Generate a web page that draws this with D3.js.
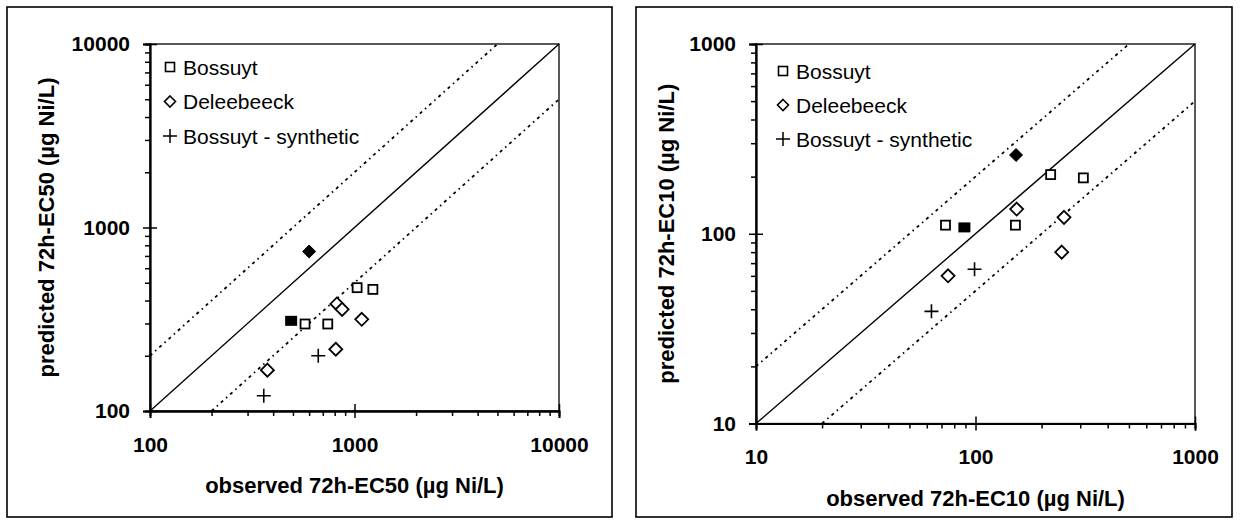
<!DOCTYPE html>
<html>
<head>
<meta charset="utf-8">
<script src="https://cdn.jsdelivr.net/npm/d3@7"></script>
<style>
  html, body { margin: 0; padding: 0; background: #fff; }
  svg { display: block; }
  text { font-family: "Liberation Sans", Arial, sans-serif; fill: #000; }
</style>
</head>
<body>
<svg id="chart" width="1240" height="524"></svg>
<script>
// ---- data: EC50 panel (ug Ni/L)
const ec50_bossuyt_obs   = [573, 740, 1030, 1230];
const ec50_bossuyt_pred  = [298, 298, 470, 460];
const ec50_bossuytF_obs  = [490];
const ec50_bossuytF_pred = [310];
const ec50_delee_obs     = [375, 810, 820, 870, 1085];
const ec50_delee_pred    = [167, 217, 383, 358, 316];
const ec50_deleeF_obs    = [600];
const ec50_deleeF_pred   = [740];
const ec50_synth_obs     = [360, 665];
const ec50_synth_pred    = [121, 200];

// ---- data: EC10 panel
const ec10_bossuyt_obs   = [73, 152, 220, 310];
const ec10_bossuyt_pred  = [111, 111, 205, 197];
const ec10_bossuytF_obs  = [89];
const ec10_bossuytF_pred = [108];
const ec10_delee_obs     = [75, 154, 253, 247];
const ec10_delee_pred    = [60, 135, 122, 80];
const ec10_deleeF_obs    = [153];
const ec10_deleeF_pred   = [260];
const ec10_synth_obs     = [63, 99];
const ec10_synth_pred    = [39, 65];

const legendLabels = ['Bossuyt', 'Deleebeeck', 'Bossuyt - synthetic'];
const ec50_ticks = [100, 1000, 10000];
const ec10_ticks = [10, 100, 1000];

const zip = (a, b) => a.map((v, i) => [v, b[i]]);

const svg = d3.select('#chart');

function minorTicks (dom) {
  const out = [];
  for (let d = dom[0]; d < dom[1]; d *= 10)
    for (let k = 2; k <= 9; k++) out.push(d * k);
  return out;
}

function drawPanel (cfg) {
  const { box, plot, domain, ticks } = cfg;

  svg.append('rect')
     .attr('x', box[0]).attr('y', box[1])
     .attr('width', box[2] - box[0]).attr('height', box[3] - box[1])
     .attr('fill', 'none').attr('stroke', '#000').attr('stroke-width', 1.6);

  const x = d3.scaleLog(domain, [plot.l, plot.r]);
  const y = d3.scaleLog(domain, [plot.b, plot.t]);

  const g = svg.append('g');

  // plot frame
  g.append('rect')
   .attr('x', plot.l).attr('y', plot.t)
   .attr('width', plot.r - plot.l).attr('height', plot.b - plot.t)
   .attr('fill', 'none').attr('stroke', '#000').attr('stroke-width', 1.3);

  // reference lines: 1:1 and factor-2 bands
  const line = d3.line().x(d => x(d[0])).y(d => y(d[1]));
  const lo = domain[0], hi = domain[1];
  g.append('path').attr('d', line([[lo, lo], [hi, hi]]))
   .attr('stroke', '#000').attr('stroke-width', 1.4).attr('fill', 'none');
  [[[lo, 2 * lo], [hi / 2, hi]], [[2 * lo, lo], [hi, hi / 2]]].forEach(seg => {
    g.append('path').attr('d', line(seg))
     .attr('stroke', '#000').attr('stroke-width', 1.8).attr('fill', 'none')
     .attr('stroke-dasharray', '3,4,1.5,4');
  });

  // axes: minor ticks outside, major ticks crossing
  const xMinor = g.append('g').attr('transform', `translate(0,${plot.b})`)
    .call(d3.axisBottom(x).tickValues(minorTicks(domain)).tickSize(5).tickFormat(''));
  const yMinor = g.append('g').attr('transform', `translate(${plot.l},0)`)
    .call(d3.axisLeft(y).tickValues(minorTicks(domain)).tickSize(5).tickFormat(''));
  const xMajor = g.append('g').attr('transform', `translate(0,${plot.b})`)
    .call(d3.axisBottom(x).tickValues(ticks).tickSize(7).tickPadding(19).tickFormat(d3.format('d')));
  const yMajor = g.append('g').attr('transform', `translate(${plot.l},0)`)
    .call(d3.axisLeft(y).tickValues(ticks).tickSize(7).tickPadding(13).tickFormat(d3.format('d')));
  xMajor.selectAll('.tick line').attr('y1', -7);
  yMajor.selectAll('.tick line').attr('x1', 7);
  [xMinor, yMinor, xMajor, yMajor].forEach(a => {
    a.select('.domain').attr('stroke-width', 1.8);
    a.selectAll('.tick line').attr('stroke-width', 1.5);
  });
  [xMajor, yMajor].forEach(a => a.selectAll('text')
    .attr('font-size', 21).attr('font-weight', 'bold')
    .attr('font-family', '"Liberation Sans", Arial, sans-serif'));

  // axis titles
  svg.append('text')
     .attr('x', (plot.l + plot.r) / 2).attr('y', cfg.xTitleY)
     .attr('text-anchor', 'middle').attr('dominant-baseline', 'central')
     .attr('font-size', 22).attr('font-weight', 'bold')
     .text(cfg.xTitle);
  svg.append('text')
     .attr('transform', `translate(${cfg.yTitleX},${(plot.t + plot.b) / 2}) rotate(-90)`)
     .attr('text-anchor', 'middle').attr('dominant-baseline', 'central')
     .attr('font-size', 22).attr('font-weight', 'bold')
     .text(cfg.yTitle);

  // markers
  const sq = 9, dm = 6.5, cr = 7;
  const m = g.append('g');
  m.selectAll('.bo').data(zip(cfg.bossuyt[0], cfg.bossuyt[1])).join('rect')
   .attr('x', d => x(d[0]) - sq / 2).attr('y', d => y(d[1]) - sq / 2)
   .attr('width', sq).attr('height', sq)
   .attr('fill', '#fff').attr('stroke', '#000').attr('stroke-width', 1.8);
  m.selectAll('.bf').data(zip(cfg.bossuytF[0], cfg.bossuytF[1])).join('rect')
   .attr('x', d => x(d[0]) - 6).attr('y', d => y(d[1]) - 5)
   .attr('width', 12).attr('height', 10)
   .attr('fill', '#000');
  const diamond = (cx, cy) => `M${cx},${cy - dm}L${cx + dm},${cy}L${cx},${cy + dm}L${cx - dm},${cy}Z`;
  m.selectAll('.do').data(zip(cfg.delee[0], cfg.delee[1])).join('path')
   .attr('d', d => diamond(x(d[0]), y(d[1])))
   .attr('fill', '#fff').attr('stroke', '#000').attr('stroke-width', 1.8);
  m.selectAll('.df').data(zip(cfg.deleeF[0], cfg.deleeF[1])).join('path')
   .attr('d', d => diamond(x(d[0]), y(d[1])))
   .attr('fill', '#000').attr('stroke', '#000').attr('stroke-width', 1);
  const cross = (cx, cy) => `M${cx - cr},${cy}H${cx + cr}M${cx},${cy - cr}V${cy + cr}`;
  m.selectAll('.sy').data(zip(cfg.synth[0], cfg.synth[1])).join('path')
   .attr('d', d => cross(x(d[0]), y(d[1])))
   .attr('stroke', '#000').attr('stroke-width', 1.6);

  // legend
  const L = cfg.legend;
  legendLabels.forEach((lab, i) => {
    const cy = L.y + i * L.step, cx = L.x;
    if (i === 0) g.append('rect').attr('x', cx - 4.5).attr('y', cy - 4.5).attr('width', 9).attr('height', 9)
                  .attr('fill', '#fff').attr('stroke', '#000').attr('stroke-width', 1.6);
    if (i === 1) g.append('path').attr('d', `M${cx},${cy - 5.5}L${cx + 5.5},${cy}L${cx},${cy + 5.5}L${cx - 5.5},${cy}Z`)
                  .attr('fill', '#fff').attr('stroke', '#000').attr('stroke-width', 1.6);
    if (i === 2) g.append('path').attr('d', `M${cx - 7},${cy}H${cx + 7}M${cx},${cy - 7}V${cy + 7}`)
                  .attr('stroke', '#000').attr('stroke-width', 1.5);
    g.append('text').attr('x', cx + 13).attr('y', cy)
     .attr('dominant-baseline', 'central').attr('font-size', 21)
     .text(lab);
  });
}

drawPanel({
  box: [7, 7, 612, 517],
  plot: { l: 150, r: 559, t: 44, b: 411 },
  domain: [100, 10000], ticks: ec50_ticks,
  xTitle: 'observed 72h-EC50 (µg Ni/L)', xTitleY: 485,
  yTitle: 'predicted 72h-EC50 (µg Ni/L)', yTitleX: 46,
  bossuyt: [ec50_bossuyt_obs, ec50_bossuyt_pred],
  bossuytF: [ec50_bossuytF_obs, ec50_bossuytF_pred],
  delee: [ec50_delee_obs, ec50_delee_pred],
  deleeF: [ec50_deleeF_obs, ec50_deleeF_pred],
  synth: [ec50_synth_obs, ec50_synth_pred],
  legend: { x: 170, y: 67, step: 34.5 }
});

drawPanel({
  box: [636, 7, 1232, 517],
  plot: { l: 756, r: 1195, t: 44, b: 423.5 },
  domain: [10, 1000], ticks: ec10_ticks,
  xTitle: 'observed 72h-EC10 (µg Ni/L)', xTitleY: 498,
  yTitle: 'predicted 72h-EC10 (µg Ni/L)', yTitleX: 666,
  bossuyt: [ec10_bossuyt_obs, ec10_bossuyt_pred],
  bossuytF: [ec10_bossuytF_obs, ec10_bossuytF_pred],
  delee: [ec10_delee_obs, ec10_delee_pred],
  deleeF: [ec10_deleeF_obs, ec10_deleeF_pred],
  synth: [ec10_synth_obs, ec10_synth_pred],
  legend: { x: 783, y: 71, step: 34 }
});
</script>
</body>
</html>
